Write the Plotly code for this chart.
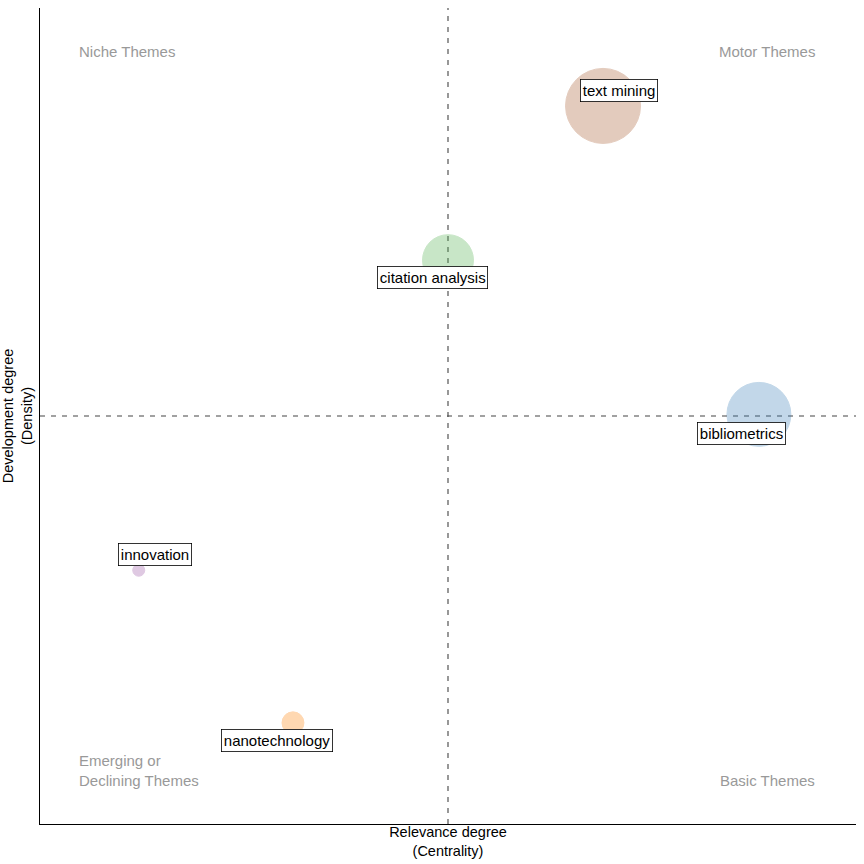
import numpy as np
import plotly.graph_objects as go

# Thematic map data
themes = ['text mining', 'citation analysis', 'bibliometrics', 'innovation', 'nanotechnology']
centrality = [0.690, 0.500, 0.881, 0.121, 0.310]
density = [0.880, 0.691, 0.502, 0.311, 0.124]
freq = [117, 54, 85, 3, 10]
colors = ['#A65628', '#4DAF4A', '#377EB8', '#984EA3', '#FF7F00']

quadrants = ['Niche Themes', 'Motor Themes', 'Emerging or<br>Declining Themes', 'Basic Themes']

# label offsets (px) to mimic repelled labels
label_shift = [(16, 15), (-16, -17), (-17, -19), (16, 16), (-16, -18)]

x_mid = 0.5
y_mid = 0.5

sizes = 75 * np.sqrt(np.array(freq) / max(freq))

fig = go.Figure()
fig.add_trace(go.Scatter(
    x=centrality, y=density, mode='markers',
    marker=dict(size=sizes, sizemode='diameter', color=colors, opacity=0.3,
                line=dict(width=1, color=colors)),
    hovertext=themes, showlegend=False,
))

for name, cx, cy, (dx, dy) in zip(themes, centrality, density, label_shift):
    fig.add_annotation(
        x=cx, y=cy, text=name, showarrow=False, xshift=dx, yshift=dy,
        font=dict(family='Liberation Sans, Arial', size=15, color='black'),
        bgcolor='white', bordercolor='black', borderwidth=0.8, borderpad=2,
    )

# quadrant labels
quad_pos = [(0.045, 0.947, 'left', 'middle'), (0.952, 0.947, 'right', 'middle'),
            (0.045, 0.04, 'left', 'bottom'), (0.952, 0.04, 'right', 'bottom')]
for txt, (qx, qy, xa, ya) in zip(quadrants, quad_pos):
    fig.add_annotation(
        x=qx, y=qy, text=txt, showarrow=False, xanchor=xa, yanchor=ya, align='left',
        font=dict(family='Liberation Sans, Arial', size=15, color='#999999'),
    )

fig.add_shape(type='line', x0=x_mid, x1=x_mid, y0=0, y1=1, xref='x', yref='paper',
              line=dict(color='#444444', width=1.1, dash='5px,6px'), layer='below')
fig.add_shape(type='line', x0=0, x1=1, y0=y_mid, y1=y_mid, xref='paper', yref='y',
              line=dict(color='#444444', width=1.1, dash='5px,6px'), layer='below')

fig.update_layout(
    width=864, height=864,
    margin=dict(l=40, r=8, t=8, b=40),
    plot_bgcolor='white', paper_bgcolor='white',
    font=dict(family='Liberation Sans, Arial', color='black', size=14.5),
    xaxis=dict(range=[0, 1], showgrid=False, zeroline=False, showticklabels=False,
               ticks='', showline=True, linecolor='black', linewidth=1.3, automargin=False,
               title=dict(text='Relevance degree<br>(Centrality)', standoff=2,
                          font=dict(size=14.5))),
    yaxis=dict(range=[0, 1], showgrid=False, zeroline=False, showticklabels=False,
               ticks='', showline=True, linecolor='black', linewidth=1.3, automargin=False,
               title=dict(text='Development degree<br>(Density)', standoff=4,
                          font=dict(size=14.5))),
)

fig.write_html('out.html', config={'displayModeBar': False},
               post_script="document.body.style.margin='0';")
